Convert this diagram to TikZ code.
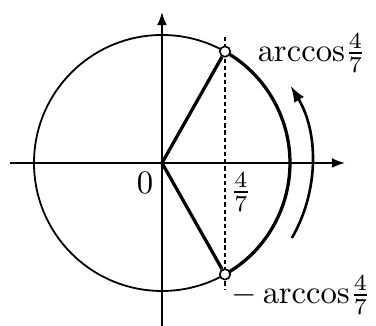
\documentclass[tikz,border=0pt]{standalone}
\usetikzlibrary{arrows.meta}
\begin{document}
\begin{tikzpicture}[x=0.306pt,y=0.306pt,
  thinline/.style={line width=0.55pt},
  thickline/.style={line width=1pt},
  axis/.style={line width=0.55pt,-{Latex[length=4pt,width=3pt]}},
  pt/.style={circle,draw,fill=white,inner sep=0pt,minimum size=3.2pt,line width=0.5pt},
  lbl/.style={inner sep=0pt},
  biglbl/.style={inner sep=0pt,font=\fontsize{10.4}{13}\selectfont}]
\useasboundingbox (-162,-163) rectangle (214,163);
\coordinate (O) at (0,0);
\coordinate (xs) at (-152,0);
\coordinate (xe) at (183,0);
\coordinate (ys) at (0,-163);
\coordinate (ye) at (0,151);
\coordinate (dt) at (63,126);
\coordinate (db) at (63,-127);
\draw[thinline] (O) circle (128);
\draw[axis] (xs) -- (xe);
\draw[axis] (ys) -- (ye);
\draw[line width=0.5pt,dash pattern=on 1.3pt off 0.9pt] (dt) -- (db);
\draw[thickline] (63,-111.4) arc (-60.5:60.5:128);
\node[pt] (A) at (63,111.4) {};
\node[pt] (B) at (63,-111.4) {};
\draw[thickline] (A) -- (O) -- (B);
\draw[line width=0.8pt,-{Latex[length=5pt,width=3.5pt]}] (-30:150) arc (-30:31:150);
\node[biglbl,anchor=west] (t1) at (95,110) {$\mathrm{arccos}\frac{4}{7}$};
\node[biglbl,anchor=west] (t2) at (69,-132) {$-\,\mathrm{arccos}\frac{4}{7}$};
\node[lbl] (f) at (79,-29) {$\frac{4}{7}$};
\node[lbl] (z) at (-17,-20) {$0$};
\end{tikzpicture}
\end{document}
